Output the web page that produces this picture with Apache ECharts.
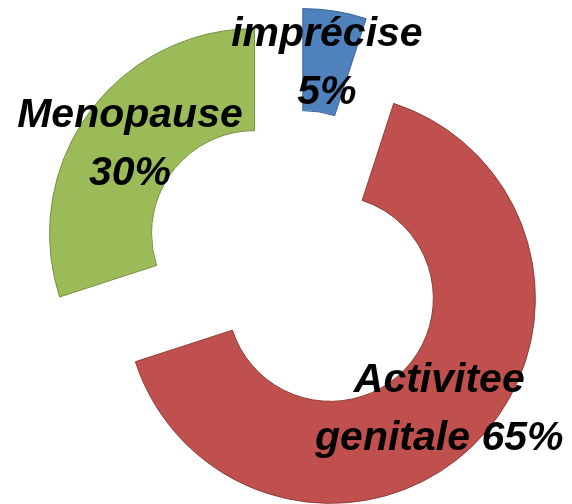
<!DOCTYPE html>
<html>
<head>
<meta charset="utf-8">
<script src="https://cdn.jsdelivr.net/npm/echarts@6/dist/echarts.min.js"></script>
<style>
  html, body { margin: 0; padding: 0; background: #fff; }
  #chart { width: 572px; height: 504px; }
</style>
</head>
<body>
<div id="chart"></div>
<script>
// slices, clockwise from 12 o'clock
const names = ['imprécise', 'Activitee genitale', 'Menopause']
const values = [5, 65, 30]
const colors = ['#4F81BD', '#C0504D', '#9BBB59']
const borders = ['#3A6398', '#8E3B39', '#76923F']

const center = [295, 263]
const radius = [103, 205]
const offset = 50   // how far each piece is pulled out

const chart = echarts.init(document.getElementById('chart'))

let total = values.reduce((a, b) => a + b, 0)
// middle angle of each slice, clockwise from top (radians)
let mids = values.map((v, i) => {
  let before = values.slice(0, i).reduce((a, b) => a + b, 0)
  return (before + v / 2) / total * 2 * Math.PI
})

function labelText(name, value) {
  // two-word names keep the percentage on the second line
  let parts = name.split(' ')
  if (parts.length > 1) {
    return parts[0] + '\n' + parts.slice(1).join(' ') + ' ' + value + '%'
  }
  return name + '\n' + value + '%'
}

// one pie per piece: same data, only its own slice painted, centre moved out
let series = names.map((name, k) => {
  let cx = center[0] + offset * Math.sin(mids[k])
  let cy = center[1] - offset * Math.cos(mids[k])
  let d = (radius[0] + radius[1]) / 2
  return {
    type: 'pie',
    center: [cx, cy],
    radius: radius,
    startAngle: 90,
    clockwise: true,
    silent: true,
    avoidLabelOverlap: false,
    label: {
      show: true,
      position: 'outside',
      color: '#000',
      fontFamily: 'Liberation Sans',
      fontSize: 41,
      fontWeight: 'bold',
      fontStyle: 'italic',
      lineHeight: 58,
      formatter: p => labelText(p.name, p.value)
    },
    labelLayout: function () {
      return {
        x: cx + d * Math.sin(mids[k]),
        y: cy - d * Math.cos(mids[k]) + 2,
        align: 'center',
        verticalAlign: 'middle'
      }
    },
    labelLine: { show: false },
    emphasis: { disabled: true },
    data: names.map((n, i) => ({
      name: n,
      value: values[i],
      itemStyle: i === k
        ? { color: colors[i], borderColor: borders[i], borderWidth: 1 }
        : { color: 'rgba(0,0,0,0)', borderWidth: 0 },
      label: { show: i === k }
    }))
  }
})

chart.setOption({
  animation: false,
  series: series
})
</script>
</body>
</html>
